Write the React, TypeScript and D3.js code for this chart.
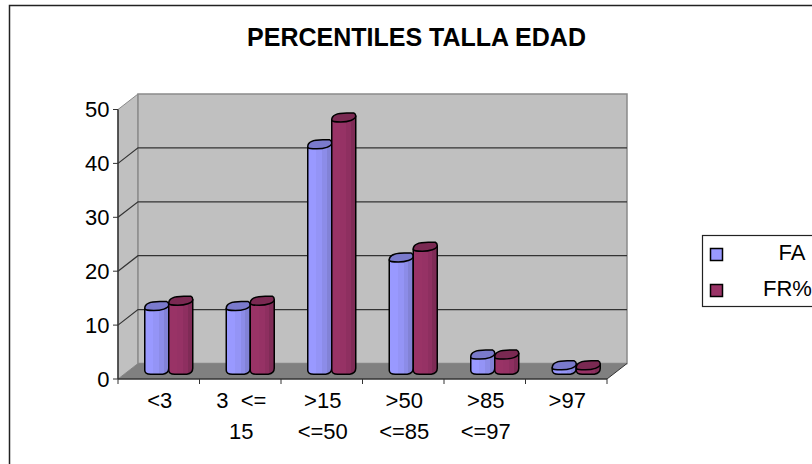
import React from "react";
import * as d3 from "d3";

const categories: string[][] = [["<3"], ["3  <=", "15"], [">15", "<=50"], [">50", "<=85"], [">85", "<=97"], [">97"]];
const faValues = [12, 12, 42, 21, 3, 1];
const frValues = [13, 13, 47, 23, 3, 1];
const yTicks = [0, 10, 20, 30, 40, 50];
const seriesNames = ["FA", "FR%"];
const chartTitle = "PERCENTILES TALLA EDAD";

const WIDTH = 812;
const HEIGHT = 464;
const FONT = "Liberation Sans, Arial, sans-serif";
const LABEL_SIZE = 22;
const DEPTH_X = 20;
const DEPTH_Y = -15.5;

const x = d3.scaleBand<number>().domain(d3.range(categories.length)).range([118, 607]);
const y = d3.scaleLinear().domain([0, 50]).range([379, 109.5]);

const palette = [
  { id: "blueBody", top: "#7a7acc", stops: ["#9999ff", "#9494f6", "#8c8ce8", "#8282d6"] },
  { id: "redBody", top: "#7a2952", stops: ["#993366", "#963265", "#8e2f60", "#7f2b56"] },
];

function Cylinder({ cx, value, rx, color }: { cx: number; value: number; rx: number; color: (typeof palette)[number] }) {
  // Cylinders stand halfway along the depth of the floor
  const baseY = y(0) + DEPTH_Y / 2;
  const topY = y(value) + DEPTH_Y / 2;
  const ry = 4;
  const tilt = 1.8;
  const body = `M${cx - rx},${topY + tilt} L${cx - rx},${baseY - 1} Q${cx - rx},${baseY + 3} ${cx - rx + 6},${baseY + 3} L${cx + rx - 6},${baseY + 3} Q${cx + rx},${baseY + 2} ${cx + rx},${baseY - 3} L${cx + rx},${topY - tilt} Z`;
  const lid = `M${cx - rx},${topY + tilt} C${cx - rx},${topY - ry} ${cx - 3},${topY - ry - 1} ${cx + 3},${topY - ry - 1} L${cx + rx - 2},${topY - ry - 1} Q${cx + rx},${topY - ry} ${cx + rx},${topY - tilt} C${cx + rx},${topY + 2} ${cx + 4},${topY + ry} ${cx - 3},${topY + ry} C${cx - 8},${topY + ry} ${cx - rx},${topY + ry} ${cx - rx},${topY + tilt} Z`;
  return (
    <g stroke="#000" strokeWidth={1.5} strokeLinejoin="round">
      <path d={body} fill={`url(#${color.id})`} />
      <path d={lid} fill={color.top} />
    </g>
  );
}

export default function App() {
  const step = x.bandwidth();
  const left = x.range()[0];
  const right = x.range()[1];
  const rx = 12;

  return (
    <svg
      width={WIDTH}
      height={HEIGHT}
      viewBox={`0 0 ${WIDTH} ${HEIGHT}`}
      style={{ position: "fixed", left: 0, top: 0, background: "#fff" }}
      fontFamily={FONT}
    >
      <defs>
        {palette.map((p) => (
          <linearGradient key={p.id} id={p.id} x1="0" x2="1" y1="0" y2="0">
            <stop offset="0" stopColor={p.stops[0]} />
            <stop offset="0.35" stopColor={p.stops[0]} />
            <stop offset="0.35" stopColor={p.stops[1]} />
            <stop offset="0.6" stopColor={p.stops[1]} />
            <stop offset="0.6" stopColor={p.stops[2]} />
            <stop offset="0.8" stopColor={p.stops[2]} />
            <stop offset="0.8" stopColor={p.stops[3]} />
            <stop offset="1" stopColor={p.stops[3]} />
          </linearGradient>
        ))}
      </defs>

      {/* Outer chart frame, running past the right and bottom edges */}
      <rect x={9.5} y={5.5} width={WIDTH + 10} height={HEIGHT + 10} fill="#fff" stroke="#222" strokeWidth={1.5} />

      <text x={416.5} y={46} textAnchor="middle" fontSize={25} fontWeight="bold" fill="#000">
        {chartTitle}
      </text>

      {/* Side wall, back wall and floor */}
      <polygon
        points={`${left},${y(50)} ${left + DEPTH_X},${y(50) + DEPTH_Y} ${left + DEPTH_X},${y(0) + DEPTH_Y} ${left},${y(0)}`}
        fill="#c0c0c0"
        stroke="#8a8a8a"
      />
      <rect
        x={left + DEPTH_X}
        y={y(50) + DEPTH_Y}
        width={right - left}
        height={y(0) - y(50)}
        fill="#c0c0c0"
        stroke="#8a8a8a"
        strokeWidth={1.5}
      />
      <polygon
        points={`${left},${y(0)} ${right},${y(0)} ${right + DEPTH_X},${y(0) + DEPTH_Y} ${left + DEPTH_X},${y(0) + DEPTH_Y}`}
        fill="#808080"
      />

      {/* Gridlines wrap from the side wall onto the back wall */}
      {yTicks.slice(1, -1).map((t) => (
        <polyline
          key={t}
          points={`${left},${y(t)} ${left + DEPTH_X},${y(t) + DEPTH_Y} ${right + DEPTH_X},${y(t) + DEPTH_Y}`}
          fill="none"
          stroke="#333"
          strokeWidth={1.2}
        />
      ))}

      {/* Bars */}
      {categories.map((_, i) => {
        const cx = x(i)! + step / 2 + 10;
        return (
          <g key={i}>
            <Cylinder cx={cx - rx} value={faValues[i]} rx={rx} color={palette[0]} />
            <Cylinder cx={cx + rx} value={frValues[i]} rx={rx} color={palette[1]} />
          </g>
        );
      })}

      {/* Value axis */}
      <line x1={left} x2={left} y1={y(50)} y2={y(0)} stroke="#333" strokeWidth={1.5} />
      {yTicks.map((t) => (
        <g key={t}>
          <line x1={left - 5} x2={left} y1={y(t)} y2={y(t)} stroke="#333" />
          <text x={109.5} y={y(t) + 7.5} textAnchor="end" fontSize={LABEL_SIZE} fill="#000">
            {t}
          </text>
        </g>
      ))}

      {/* Category axis */}
      <line x1={left} x2={right} y1={y(0)} y2={y(0)} stroke="#333" strokeWidth={1.5} />
      <line x1={right} x2={right + DEPTH_X} y1={y(0)} y2={y(0) + DEPTH_Y} stroke="#333" />
      {d3.range(categories.length + 1).map((i) => (
        <line key={i} x1={left + i * step} x2={left + i * step} y1={y(0)} y2={y(0) + 5} stroke="#333" />
      ))}
      {categories.map((lines, i) =>
        lines.map((line, j) => (
          <text
            key={j}
            x={x(i)! + step / 2 + 1}
            y={408 + j * 31}
            textAnchor="middle"
            fontSize={LABEL_SIZE}
            fill="#000"
            style={{ whiteSpace: "pre" }}
          >
            {line}
          </text>
        )),
      )}

      {/* Legend */}
      <rect x={702.5} y={235.5} width={130} height={71} fill="#fff" stroke="#222" strokeWidth={1.2} />
      {seriesNames.map((name, i) => (
        <g key={name}>
          <rect
            x={710.5}
            y={248.5 + i * 36}
            width={12}
            height={12}
            fill={palette[i].stops[0]}
            stroke="#000"
            strokeWidth={1.5}
          />
          <text x={i === 0 ? 792 : 787.5} y={260 + i * 36} textAnchor="middle" fontSize={LABEL_SIZE} fill="#000">
            {name}
          </text>
        </g>
      ))}
    </svg>
  );
}
